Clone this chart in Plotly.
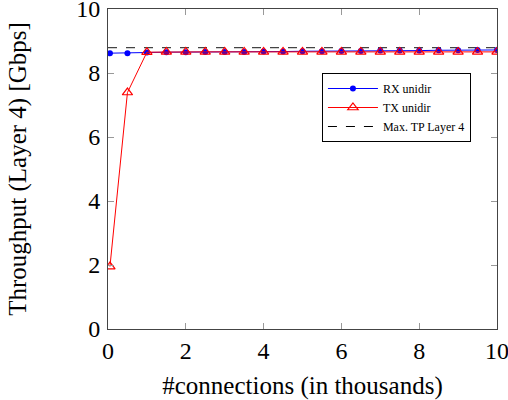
import plotly.graph_objects as go

x_vals = [0.05, 0.5, 1, 1.5, 2, 2.5, 3, 3.5, 4, 4.5, 5, 5.5, 6, 6.5, 7, 7.5, 8, 8.5, 9, 9.5, 10]
rx_unidir = [8.62, 8.62, 8.64, 8.65, 8.65, 8.66, 8.66, 8.66, 8.67, 8.67, 8.68, 8.68, 8.69, 8.69,
             8.70, 8.70, 8.70, 8.71, 8.71, 8.72, 8.72]
tx_unidir = [1.95, 7.39, 8.65, 8.66, 8.66, 8.66, 8.66, 8.66, 8.66, 8.66, 8.66, 8.66, 8.66, 8.66,
             8.66, 8.66, 8.66, 8.66, 8.66, 8.66, 8.66]
max_tp_x = [0, 10]
max_tp_y = [8.79, 8.79]

x_ticks = [0, 2, 4, 6, 8, 10]
y_ticks = [0, 2, 4, 6, 8, 10]

font_family = "Liberation Serif, Times New Roman, serif"

fig = go.Figure()
fig.add_trace(go.Scatter(
    x=max_tp_x, y=max_tp_y, mode="lines", name="Max. TP Layer 4",
    line=dict(color="#444444", width=1.2, dash="dash"), showlegend=False))
fig.add_trace(go.Scatter(
    x=x_vals, y=rx_unidir, mode="lines+markers", name="RX unidir",
    line=dict(color="blue", width=1),
    marker=dict(symbol="circle", size=6, color="blue")))
fig.add_trace(go.Scatter(
    x=x_vals, y=tx_unidir, mode="lines+markers", name="TX unidir",
    line=dict(color="red", width=1),
    marker=dict(symbol="triangle-up-open", size=9, color="red", line=dict(width=1.2, color="red"))))
fig.add_trace(go.Scatter(
    x=[None], y=[None], mode="lines", name="Max. TP Layer 4",
    line=dict(color="black", width=1, dash="dash")))

axis_common = dict(
    showgrid=False, zeroline=False, showline=True, linecolor="#444444", linewidth=1,
    mirror="ticks", ticks="inside", ticklen=6, tickcolor="#999999", tickwidth=1,
    tickfont=dict(family=font_family, size=24, color="black"), automargin=False,
    ticklabeloverflow="allow",
)

fig.update_layout(
    width=508, height=400,
    margin=dict(l=108, r=11, t=9, b=71),
    plot_bgcolor="white", paper_bgcolor="white",
    font=dict(family=font_family, color="black"),
    xaxis=dict(range=[0, 10], tickvals=x_ticks,
               title=dict(text="#connections (in thousands)", font=dict(family=font_family, size=25), standoff=14),
               **axis_common),
    yaxis=dict(range=[0, 10], tickvals=y_ticks, ticklabelstandoff=2,
               title=dict(text="Throughput (Layer 4) [Gbps]", font=dict(family=font_family, size=25), standoff=42),
               **axis_common),
    legend=dict(x=0.55, y=0.80, xanchor="left", yanchor="top",
                bordercolor="black", borderwidth=1, bgcolor="white",
                font=dict(family=font_family, size=12), itemwidth=50, tracegroupgap=2),
)

fig.write_html("out.html", config={"displayModeBar": False},
               post_script="document.body.style.margin='0px';")
